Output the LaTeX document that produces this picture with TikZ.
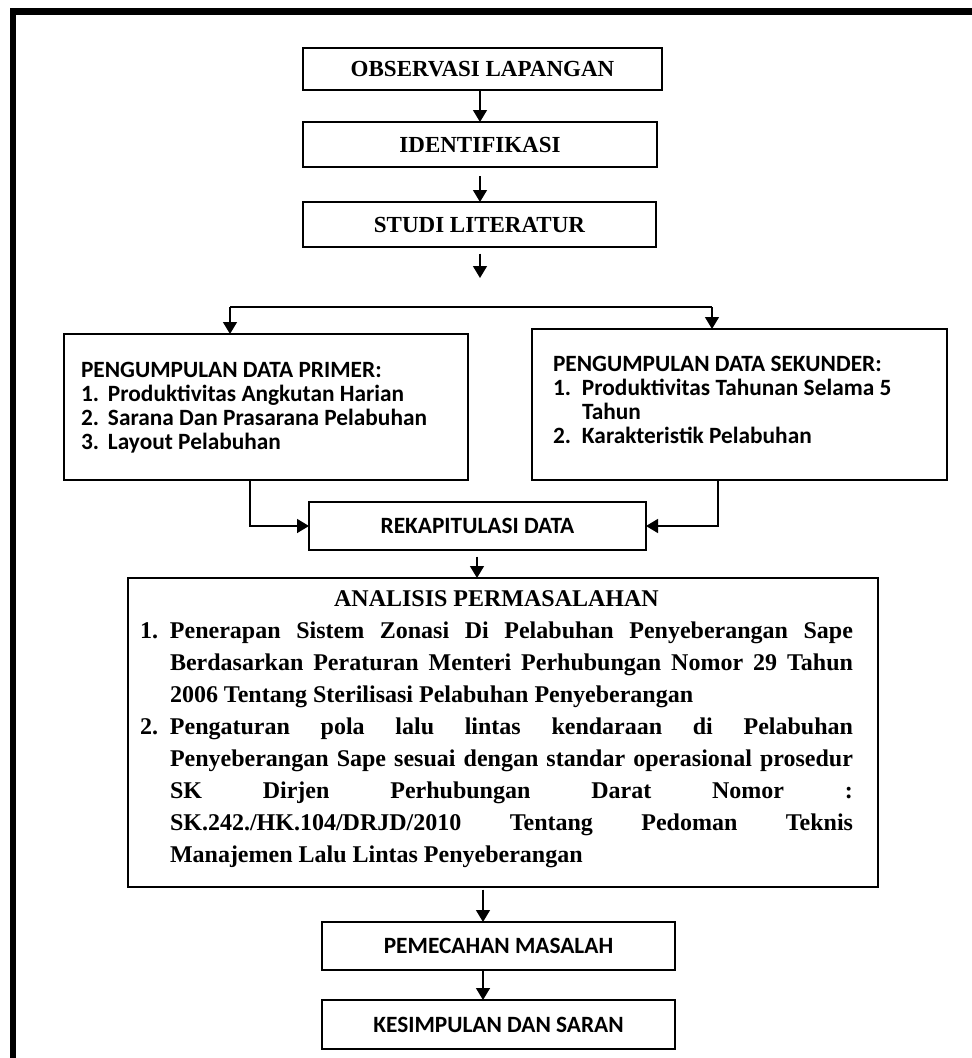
\documentclass[tikz,border=0pt]{standalone}
\usepackage{fontspec}
\setmainfont{Liberation Serif}
\newfontfamily\calib{Carlito}
\usetikzlibrary{arrows.meta}
\begin{document}
\begin{tikzpicture}[x=0.75pt,y=-0.75pt,
  every node/.style={inner sep=0pt, outer sep=0pt},
  tbox/.style={draw, line width=1.4pt, font=\fontsize{17.25}{20}\selectfont\bfseries},
  cbox/.style={draw, line width=1.4pt, font=\calib\fontsize{17.5}{20}\selectfont\bfseries},
  conn/.style={line width=1.1pt},
  arr/.style={conn, -{Triangle[width=10.5pt,length=9pt]}},
]
\useasboundingbox (0,0) rectangle (972,1058);
% outer frame
\fill (9.5,8) rectangle (972,14.5);
\fill (9.5,8) rectangle (16,1058);

% boxes
\node[tbox, minimum width=359*0.75pt, minimum height=42*0.75pt] (obs) at (482.5,69) {OBSERVASI LAPANGAN};
\node[tbox, minimum width=354*0.75pt, minimum height=45*0.75pt] (idn) at (480,144.5) {IDENTIFIKASI};
\node[tbox, minimum width=353*0.75pt, minimum height=45*0.75pt] (stu) at (479.5,224.5) {STUDI LITERATUR};
\node[draw, line width=1.4pt, minimum width=404*0.75pt, minimum height=146*0.75pt] (prim) at (266,407) {};
\node[draw, line width=1.4pt, minimum width=415*0.75pt, minimum height=151*0.75pt] (sek) at (739.5,404.5) {};
\node[cbox, minimum width=337*0.75pt, minimum height=48*0.75pt] (rek) at (477.5,526) {REKAPITULASI DATA};
\node[draw, line width=1.4pt, minimum width=750*0.75pt, minimum height=309*0.75pt] (anl) at (503,732.5) {};
\node[cbox, minimum width=353*0.75pt, minimum height=48*0.75pt] (pem) at (498.5,946) {PEMECAHAN MASALAH};
\node[cbox, minimum width=353*0.75pt, minimum height=49*0.75pt] (kes) at (498.5,1024.5) {KESIMPULAN DAN SARAN};

% box texts
\node[anchor=base west] (primtxt) at (81,377) {\begin{minipage}[t]{290pt}\calib\bfseries\fontsize{17.5}{18}\selectfont
PENGUMPULAN DATA PRIMER:\\
\makebox[20.25pt][l]{1.}Produktivitas Angkutan Harian\\
\makebox[20.25pt][l]{2.}Sarana Dan Prasarana Pelabuhan\\
\makebox[20.25pt][l]{3.}Layout Pelabuhan\end{minipage}};

\node[anchor=base west] (sektxt) at (553,371) {\begin{minipage}[t]{290pt}\calib\bfseries\fontsize{17.5}{18}\selectfont
PENGUMPULAN DATA SEKUNDER:\\
\makebox[21.75pt][l]{1.}Produktivitas Tahunan Selama 5\\
\hspace*{21.75pt}Tahun\\
\makebox[21.75pt][l]{2.}Karakteristik Pelabuhan\end{minipage}};

\node[anchor=base west] (anltxt) at (140,606) {\begin{minipage}[t]{534.75pt}\bfseries\fontsize{18}{24}\selectfont
\makebox[534.75pt][c]{ANALISIS PERMASALAHAN}\\
\makebox[22.5pt][l]{1.}\makebox[512.25pt][s]{Penerapan Sistem Zonasi Di Pelabuhan Penyeberangan Sape}\\
\hspace*{22.5pt}\makebox[512.25pt][s]{Berdasarkan Peraturan Menteri Perhubungan Nomor 29 Tahun}\\
\hspace*{22.5pt}2006 Tentang Sterilisasi Pelabuhan Penyeberangan\\
\makebox[22.5pt][l]{2.}\makebox[512.25pt][s]{Pengaturan pola lalu lintas kendaraan di Pelabuhan}\\
\hspace*{22.5pt}\makebox[512.25pt][s]{Penyeberangan Sape sesuai dengan standar operasional prosedur}\\
\hspace*{22.5pt}\makebox[512.25pt][s]{SK Dirjen Perhubungan Darat Nomor :}\\
\hspace*{22.5pt}\makebox[512.25pt][s]{SK.242./HK.104/DRJD/2010 Tentang Pedoman Teknis}\\
\hspace*{22.5pt}Manajemen Lalu Lintas Penyeberangan\end{minipage}};

% connector helper coordinates
\coordinate (cA) at (480,0);
\coordinate (cR) at (477,0);
\coordinate (cB) at (483,0);
\coordinate (stuend) at (480,278);
\coordinate (sl) at (230,307);
\coordinate (sr) at (712,307);
\coordinate (pl) at (250,0);
\coordinate (pr) at (718,0);

% connectors
\draw[arr] (obs.south -| cA) -- (idn.north -| cA);
\draw[arr, shorten <=6.75pt] (idn.south -| cA) -- (stu.north -| cA);
\draw[arr, shorten <=5pt] (stu.south -| cA) -- (stuend);
\draw[conn] (sl) -- (sr);
\draw[arr] (sl) -- (prim.north -| sl);
\draw[arr] (sr) -- (sek.north -| sr);
\draw[arr] (prim.south -| pl) |- (rek.west);
\draw[arr] (sek.south -| pr) |- (rek.east);
\draw[arr, shorten <=5pt] (rek.south -| cR) -- (anl.north -| cR);
\draw[arr, shorten <=2pt] (anl.south -| cB) -- (pem.north -| cB);
\draw[arr] (pem.south -| cB) -- (kes.north -| cB);
\end{tikzpicture}
\end{document}
